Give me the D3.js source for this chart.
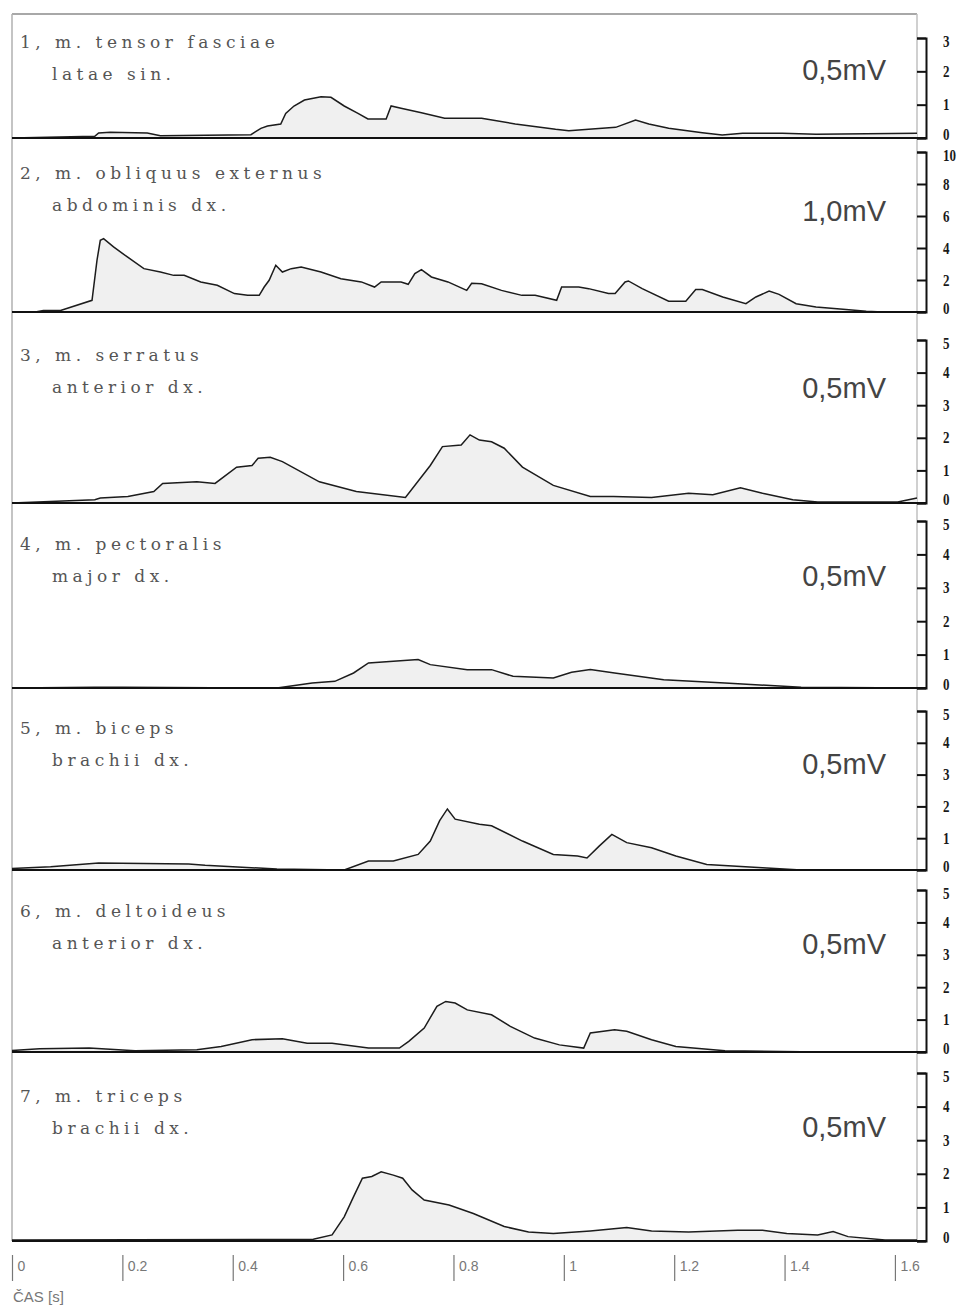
<!DOCTYPE html>
<html>
<head>
<meta charset="utf-8">
<script src="https://cdn.jsdelivr.net/npm/d3@7/dist/d3.min.js"></script>
<style>
body { margin: 0; background: #fff; }
svg { display: block; }
</style>
</head>
<body>
<svg id="chart" width="961" height="1305"></svg>
<script>
// muscle names, two lines each
var nameLine1 = ["1, m. tensor fasciae", "2, m. obliquus externus", "3, m. serratus",
    "4, m. pectoralis", "5, m. biceps", "6, m. deltoideus", "7, m. triceps"];
var nameLine2 = ["latae sin.", "abdominis dx.", "anterior dx.", "major dx.",
    "brachii dx.", "anterior dx.", "brachii dx."];
var scaleLabels = ["0,5mV", "1,0mV", "0,5mV", "0,5mV", "0,5mV", "0,5mV", "0,5mV"];
var yMax = [3, 10, 5, 5, 5, 5, 5];
var yTicks = [[0, 1, 2, 3], [0, 2, 4, 6, 8, 10], [0, 1, 2, 3, 4, 5], [0, 1, 2, 3, 4, 5],
    [0, 1, 2, 3, 4, 5], [0, 1, 2, 3, 4, 5], [0, 1, 2, 3, 4, 5]];
var timeTicks = [0, 0.2, 0.4, 0.6, 0.8, 1, 1.2, 1.4, 1.6];
var timeTickLabels = ["0", "0.2", "0.4", "0.6", "0.8", "1", "1.2", "1.4", "1.6"];

// [time s, amplitude]
var emg1 = [[0,0],[0.15,0.05],[0.157,0.15],[0.178,0.17],[0.245,0.15],[0.269,0.07],[0.433,0.1],
    [0.451,0.29],[0.463,0.36],[0.487,0.42],[0.496,0.74],[0.511,0.96],[0.53,1.14],[0.56,1.24],
    [0.578,1.22],[0.602,0.96],[0.627,0.74],[0.645,0.57],[0.678,0.57],[0.687,0.96],[0.705,0.89],
    [0.742,0.76],[0.784,0.59],[0.851,0.59],[0.912,0.42],[0.985,0.26],[1.009,0.22],[1.045,0.26],
    [1.094,0.32],[1.13,0.54],[1.154,0.42],[1.19,0.29],[1.251,0.16],[1.287,0.09],[1.324,0.14],
    [1.396,0.14],[1.457,0.11],[1.64,0.14]];
var emg2 = [[0,0],[0.042,0],[0.057,0.1],[0.088,0.1],[0.145,0.73],[0.154,3.23],[0.16,4.48],
    [0.166,4.59],[0.184,4.07],[0.209,3.44],[0.239,2.71],[0.269,2.5],[0.293,2.29],[0.312,2.29],
    [0.342,1.88],[0.372,1.67],[0.403,1.15],[0.427,1.04],[0.448,1.04],[0.457,1.56],[0.466,1.98],
    [0.478,2.92],[0.49,2.5],[0.506,2.71],[0.524,2.81],[0.56,2.5],[0.596,2.08],[0.633,1.88],
    [0.657,1.56],[0.669,1.88],[0.705,1.88],[0.718,1.73],[0.73,2.4],[0.742,2.65],[0.76,2.19],
    [0.79,1.88],[0.824,1.35],[0.833,1.8],[0.851,1.77],[0.887,1.35],[0.924,1.04],[0.948,1.04],
    [0.987,0.73],[0.996,1.56],[1.027,1.56],[1.045,1.46],[1.081,1.15],[1.093,1.15],[1.111,1.88],
    [1.117,1.94],[1.142,1.46],[1.19,0.67],[1.221,0.67],[1.239,1.4],[1.251,1.4],[1.288,0.94],
    [1.33,0.52],[1.348,0.94],[1.372,1.31],[1.39,1.1],[1.421,0.52],[1.457,0.31],[1.506,0.17],
    [1.548,0.04],[1.578,0],[1.64,0]];
var emg3 = [[0,0],[0.15,0.1],[0.16,0.15],[0.21,0.2],[0.257,0.35],[0.273,0.6],[0.335,0.65],
    [0.368,0.6],[0.407,1.1],[0.435,1.15],[0.446,1.37],[0.468,1.4],[0.49,1.27],[0.557,0.65],
    [0.624,0.35],[0.713,0.17],[0.758,1.15],[0.78,1.73],[0.814,1.78],[0.83,2.09],[0.847,1.93],
    [0.869,1.88],[0.892,1.68],[0.925,1.1],[0.981,0.54],[1.048,0.2],[1.09,0.2],[1.159,0.17],
    [1.226,0.3],[1.27,0.25],[1.32,0.47],[1.36,0.3],[1.415,0.1],[1.46,0.03],[1.605,0.03],[1.64,0.15]];
var emg4 = [[0,0],[0.15,0.02],[0.2,0.02],[0.48,0],[0.544,0.15],[0.585,0.2],[0.619,0.45],
    [0.646,0.75],[0.691,0.8],[0.736,0.85],[0.758,0.7],[0.825,0.55],[0.869,0.55],[0.908,0.35],
    [0.981,0.3],[1.014,0.47],[1.048,0.55],[1.092,0.45],[1.181,0.25],[1.292,0.15],[1.43,0.02],
    [1.64,0]];
var emg5 = [[0,0.05],[0.07,0.1],[0.157,0.22],[0.32,0.19],[0.35,0.15],[0.48,0.03],[0.602,0],
    [0.646,0.28],[0.691,0.28],[0.736,0.49],[0.758,0.91],[0.775,1.55],[0.789,1.92],[0.803,1.6],
    [0.847,1.44],[0.869,1.39],[0.925,0.91],[0.981,0.49],[1.025,0.44],[1.042,0.38],[1.064,0.75],
    [1.087,1.12],[1.114,0.86],[1.159,0.7],[1.203,0.44],[1.259,0.17],[1.36,0.07],[1.43,0],[1.64,0]];
var emg6 = [[0,0.05],[0.05,0.1],[0.14,0.12],[0.223,0.04],[0.335,0.07],[0.379,0.17],[0.435,0.38],
    [0.49,0.41],[0.535,0.27],[0.58,0.27],[0.646,0.12],[0.702,0.12],[0.719,0.33],[0.747,0.74],
    [0.77,1.41],[0.786,1.56],[0.803,1.51],[0.825,1.3],[0.869,1.15],[0.903,0.79],[0.947,0.43],
    [0.992,0.22],[1.036,0.12],[1.048,0.59],[1.092,0.69],[1.114,0.64],[1.159,0.38],[1.203,0.17],
    [1.292,0.04],[1.43,0.01],[1.64,0]];
var emg7 = [[0,0.03],[0.546,0.05],[0.58,0.18],[0.602,0.72],[0.619,1.32],[0.635,1.87],[0.652,1.92],
    [0.669,2.06],[0.691,1.96],[0.708,1.87],[0.725,1.52],[0.747,1.22],[0.792,1.07],[0.836,0.82],
    [0.892,0.43],[0.936,0.27],[0.981,0.22],[1.048,0.3],[1.114,0.4],[1.159,0.3],[1.226,0.27],
    [1.315,0.32],[1.36,0.32],[1.404,0.22],[1.46,0.18],[1.488,0.28],[1.515,0.13],[1.582,0.03],
    [1.64,0.03]];
var series = [emg1, emg2, emg3, emg4, emg5, emg6, emg7];

// layout
var plotLeft = 12, plotRight = 917, axisX = 926, frameTop = 14;
var panelBase = [138, 312, 503, 688, 870, 1052, 1241];
var panelMaxY = [38, 152, 340, 521, 711, 890, 1073];
var labelY = [42, 173, 355, 544, 728, 911, 1096];
var mvY = [70, 211, 388, 576, 764, 944, 1127];

var svg = d3.select("#chart");

var x = d3.scaleLinear()
    .domain([0, 1.64])
    .range([plotLeft, plotRight]);

// frame
svg.append("line")
    .attr("x1", plotLeft).attr("x2", plotRight)
    .attr("y1", frameTop).attr("y2", frameTop)
    .style("stroke", "#a8a8a8").style("stroke-width", 2);
svg.append("line")
    .attr("x1", plotLeft).attr("x2", plotLeft)
    .attr("y1", frameTop).attr("y2", panelBase[6])
    .style("stroke", "#b0b0b0").style("stroke-width", 1.5);
svg.append("line")
    .attr("x1", plotRight).attr("x2", plotRight)
    .attr("y1", frameTop).attr("y2", panelBase[6])
    .style("stroke", "#c0c0c0").style("stroke-width", 1.5);

series.forEach(function(data, i) {
    var y = d3.scaleLinear()
        .domain([0, yMax[i]])
        .range([panelBase[i], panelMaxY[i]]);

    var g = svg.append("g");

    var area = d3.area()
        .x(function(d) { return x(d[0]); })
        .y0(y(0))
        .y1(function(d) { return y(d[1]); });

    var line = d3.line()
        .x(function(d) { return x(d[0]); })
        .y(function(d) { return y(d[1]); });

    g.append("path")
        .datum(data)
        .attr("d", area)
        .style("fill", "#f0f0f0");

    g.append("path")
        .datum(data)
        .attr("d", line)
        .style("fill", "none")
        .style("stroke", "#1c1c1c")
        .style("stroke-width", 1.5);

    // baseline / separator
    g.append("line")
        .attr("x1", plotLeft).attr("x2", axisX)
        .attr("y1", y(0)).attr("y2", y(0))
        .style("stroke", "#111").style("stroke-width", 2);

    // right amplitude axis, ticks pointing left
    var yAxis = d3.axisRight(y)
        .tickValues(yTicks[i])
        .tickFormat(d3.format("d"))
        .tickSizeInner(-9)
        .tickSizeOuter(-9)
        .tickPadding(17);

    var ax = g.append("g")
        .attr("transform", "translate(" + axisX + ",0)")
        .call(yAxis);
    ax.select(".domain").style("stroke", "#111").style("stroke-width", 2);
    ax.selectAll(".tick line").style("stroke", "#111").style("stroke-width", 2);
    // tall, narrow digits like the original print
    ax.selectAll(".tick text")
        .attr("textLength", function(d) { return String(d).length * 6.5; })
        .attr("lengthAdjust", "spacingAndGlyphs")
        .attr("dy", function(d) {
            if (d === 0) return "0.1em";
            if (d === yMax[i]) return "0.55em";
            return "0.32em";
        })
        .style("font-family", "Liberation Serif")
        .style("font-weight", "bold")
        .style("font-size", "16px")
        .style("fill", "#1a1a1a");

    // muscle names
    g.append("text")
        .attr("x", 20).attr("y", labelY[i])
        .attr("dy", "0.35em")
        .style("font-family", "'DejaVu Serif', serif")
        .style("font-size", "17px")
        .style("letter-spacing", "4.5px")
        .style("fill", "#555")
        .text(nameLine1[i]);
    g.append("text")
        .attr("x", 52).attr("y", labelY[i] + 32)
        .attr("dy", "0.35em")
        .style("font-family", "'DejaVu Serif', serif")
        .style("font-size", "17px")
        .style("letter-spacing", "4.5px")
        .style("fill", "#555")
        .text(nameLine2[i]);

    // amplitude scale note
    g.append("text")
        .attr("x", 886).attr("y", mvY[i])
        .attr("dy", "0.35em")
        .attr("text-anchor", "end")
        .style("font-family", "Liberation Sans")
        .style("font-size", "29px")
        .style("fill", "#444")
        .text(scaleLabels[i]);
});

// time axis
var xAxis = d3.axisBottom(x)
    .tickValues(timeTicks)
    .tickFormat(function(d, i) { return timeTickLabels[i]; })
    .tickSizeInner(26)
    .tickSizeOuter(0);

var xg = svg.append("g")
    .attr("transform", "translate(0,1255)")
    .call(xAxis);
xg.select(".domain").remove();
xg.selectAll(".tick line").style("stroke", "#777").style("stroke-width", 1.2);
xg.selectAll(".tick text")
    .attr("x", 5)
    .attr("y", 6)
    .attr("dy", "0.71em")
    .attr("text-anchor", "start")
    .style("font-family", "Liberation Sans")
    .style("font-size", "14px")
    .style("fill", "#777");

svg.append("text")
    .attr("x", 13).attr("y", 1297)
    .attr("dy", "0.35em")
    .style("font-family", "Liberation Sans")
    .style("font-size", "15px")
    .style("fill", "#777")
    .text("ČAS [s]");
</script>
</body>
</html>
